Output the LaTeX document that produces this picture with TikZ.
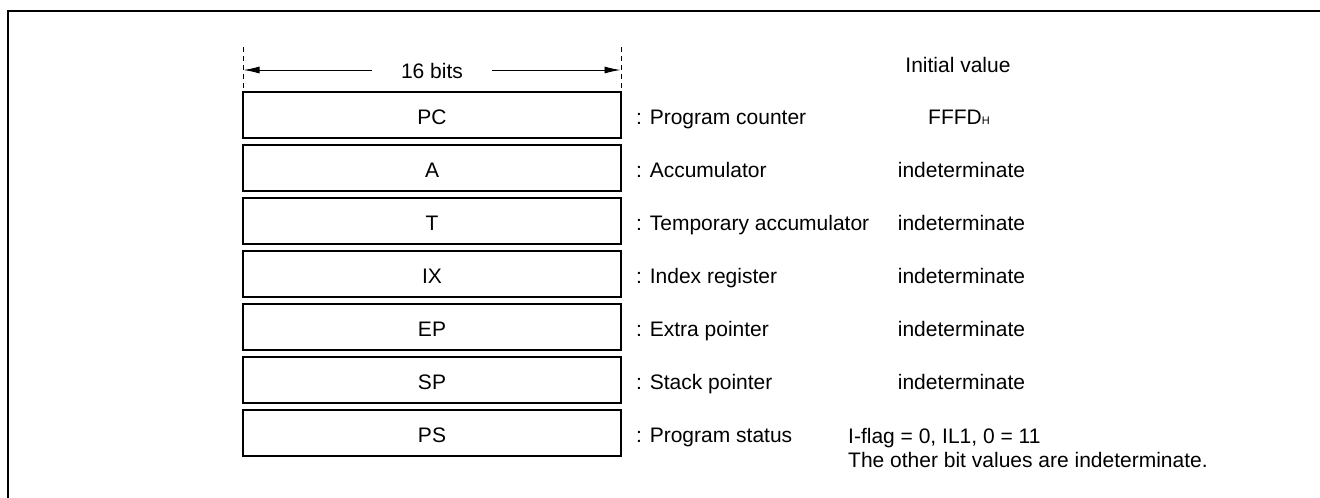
\documentclass[tikz,border=0pt]{standalone}
\usepackage{fontspec}
\setmainfont{Liberation Sans}
\usetikzlibrary{arrows.meta}
\begin{document}
\begin{tikzpicture}[x=1pt,y=-1pt,
  every node/.style={font=\fontsize{21}{25}\selectfont, inner sep=0pt},
  regbox/.style={draw, line width=2.6pt, minimum width=378pt, minimum height=46pt, anchor=center},
  lbl/.style={anchor=base west},
  val/.style={anchor=base},
  dimline/.style={line width=0.9pt, -{Latex[length=16pt,width=7pt]}},
  guide/.style={line width=0.9pt, dash pattern=on 5pt off 4pt}]
\useasboundingbox (0,0) rectangle (1320,498);
% frame
\draw[line width=1.6pt] (8,498) -- (8,11) -- (1320,11);
% width dimension
\coordinate (gl1) at (243,47);
\coordinate (gl2) at (243,92);
\coordinate (gr1) at (621,47);
\coordinate (gr2) at (621,92);
\draw[guide] (gl1) -- (gl2);
\draw[guide] (gr1) -- (gr2);
\coordinate (al) at (243.5,70);
\coordinate (ar) at (620.5,70);
\node[val, inner xsep=29pt] (bits) at (432,78) {16 bits};
\draw[dimline] (bits.west |- al) -- (al);
\draw[dimline] (bits.east |- ar) -- (ar);
\node[val] (init) at (958,72.5) {Initial value};
% registers
\foreach \nm/\y/\txt/\desc in {pc/115/PC/Program counter, a/168/A/Accumulator, t/221/T/Temporary accumulator, ix/274/IX/Index register, ep/327/EP/Extra pointer, sp/380/SP/Stack pointer, ps/433/PS/Program status}{
  \node[regbox] (\nm) at (432,\y) {};
  \node[val] (\nm txt) at (432,\y+9.5) {\txt};
  \node[lbl] (\nm lbl) at (636,\y+9.5) {: \desc};
}
\node[lbl] (pcval) at (928,124.5) {FFFD{\fontsize{11}{11}\selectfont H}};
\foreach \nm/\y in {a/168, t/221, ix/274, ep/327, sp/380}{
  \node[val] (\nm val) at (961.5,\y+9.5) {indeterminate};
}
\node[lbl] (psval1) at (848,443) {I-flag = 0, IL1, 0 = 11};
\node[lbl] (psval2) at (848,467) {The other bit values are indeterminate.};
\end{tikzpicture}
\end{document}
